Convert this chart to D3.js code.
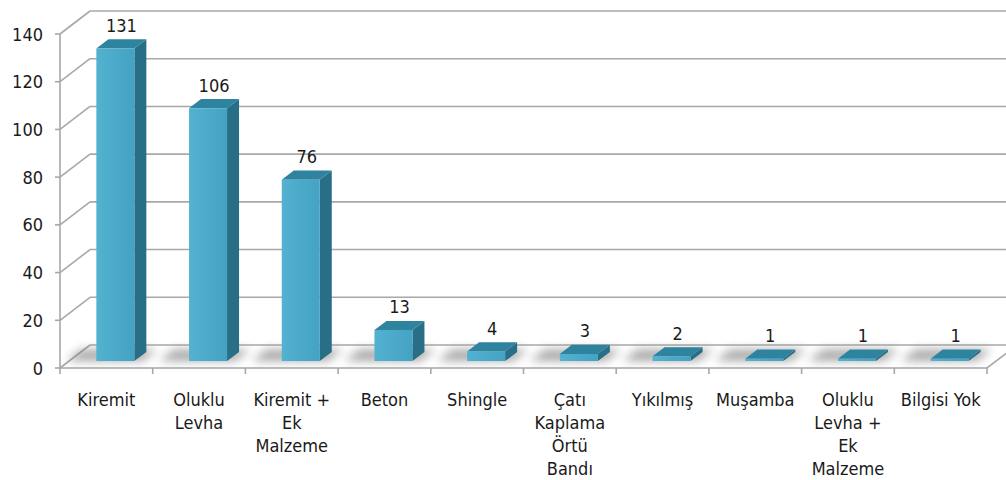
<!DOCTYPE html>
<html><head><meta charset="utf-8">
<script src="https://cdn.jsdelivr.net/npm/d3@7/dist/d3.min.js"></script>
<style>body{margin:0;background:#fff}svg{display:block}
text{font-family:"DejaVu Sans Condensed","DejaVu Sans",sans-serif;font-stretch:condensed;fill:#1a1a1a}</style>
</head><body><svg id="c" width="1006" height="480"></svg>
<script>
const categories = [["Kiremit"],["Oluklu","Levha"],["Kiremit +","Ek","Malzeme"],["Beton"],["Shingle"],["Çatı","Kaplama","Örtü","Bandı"],["Yıkılmış"],["Muşamba"],["Oluklu","Levha +","Ek","Malzeme"],["Bilgisi Yok"]];
const values = [131,106,76,13,4,3,2,1,1,1];
const yTicks = [0,20,40,60,80,100,120,140];

const svg = d3.select("#c");
const keys = categories.map(c=>c.join(" "));
const x = d3.scaleBand().domain(keys).range([60,987]).padding(0);
const y = d3.scaleLinear().domain([0,140]).range([368,34]);
const DX = 30, DY = -23;
const P = (px,v,z)=>[px+DX*z, y(v)+DY*z];
const FS = 18;

const defs = svg.append("defs");
defs.append("filter").attr("id","blur").attr("x","-50%").attr("y","-100%").attr("width","200%").attr("height","300%")
  .append("feGaussianBlur").attr("stdDeviation",5);
const gf = defs.append("linearGradient").attr("id","front").attr("x1",0).attr("x2",1).attr("y1",0).attr("y2",0);
gf.append("stop").attr("offset",0).attr("stop-color","#52b2d0");
gf.append("stop").attr("offset",1).attr("stop-color","#44a2c2");

const grid = "#a8a8a8";
const line = d3.line();
yTicks.forEach(t=>{
  svg.append("path").attr("d",line([P(60,t,1),[1010,y(t)+DY]])).attr("stroke",grid).attr("stroke-width",1.6).attr("fill","none");
  svg.append("path").attr("d",line([P(60,t,0),P(60,t,1)])).attr("stroke",grid).attr("stroke-width",1.6).attr("fill","none");
  svg.append("path").attr("d",line([[55,y(t)],[60,y(t)]])).attr("stroke",grid).attr("stroke-width",1.6);
  svg.append("text").attr("x",43).attr("y",y(t)+6.5).attr("text-anchor","end").attr("font-size",FS).text(t);
});
svg.append("path").attr("d",line([[60,y(0)],[60,y(140)]])).attr("stroke",grid).attr("stroke-width",1.6);
svg.append("path").attr("d",line([P(60,0,0),P(987,0,0),P(987,0,1)])).attr("stroke",grid).attr("stroke-width",1.6).attr("fill","none");
d3.range(11).forEach(i=>{
  const px = 60 + i*x.step();
  svg.append("path").attr("d",line([[px,y(0)],[px,y(0)+6]])).attr("stroke",grid).attr("stroke-width",1.6);
});

// shadows
keys.forEach((k,i)=>{
  const cx = x(k)+x.bandwidth()/2, w = x.bandwidth()*0.41;
  const a = P(cx-w/2-30,0,0.3), b = P(cx+w/2+8,0,0.3), c = P(cx+w/2+8,0,0.8), d = P(cx-w/2-30,0,0.8);
  svg.append("path").attr("d",line([a,b,c,d])+"Z").attr("fill","#7a7a7a").attr("opacity",0.65).attr("filter","url(#blur)");
});

keys.forEach((k,i)=>{
  const v = values[i];
  const cx = x(k)+x.bandwidth()/2, w = x.bandwidth()*0.41;
  const x0 = cx-w/2, x1 = cx+w/2, z0=0.3, z1=0.7;
  const g = svg.append("g");
  g.append("path").attr("d",line([P(x1,0,z0),P(x1,0,z1),P(x1,v,z1),P(x1,v,z0)])+"Z").attr("fill","#286e86");
  g.append("path").attr("d",line([P(x0,v,z0),P(x1,v,z0),P(x1,v,z1),P(x0,v,z1)])+"Z").attr("fill","#2e839f");
  g.append("path").attr("d",line([P(x0,0,z0),P(x1,0,z0),P(x1,v,z0),P(x0,v,z0)])+"Z").attr("fill","url(#front)");
  const lp = P(cx,v,0.5);
  svg.append("text").attr("x",lp[0]).attr("y",lp[1]-12).attr("text-anchor","middle").attr("font-size",FS).text(v);
});

categories.forEach((c,i)=>{
  const cx = x(keys[i])+x.bandwidth()/2;
  const t = svg.append("text").attr("text-anchor","middle").attr("font-size",FS);
  c.forEach((s,j)=>t.append("tspan").attr("x",cx).attr("y",406+j*23).text(s));
});
</script></body></html>
